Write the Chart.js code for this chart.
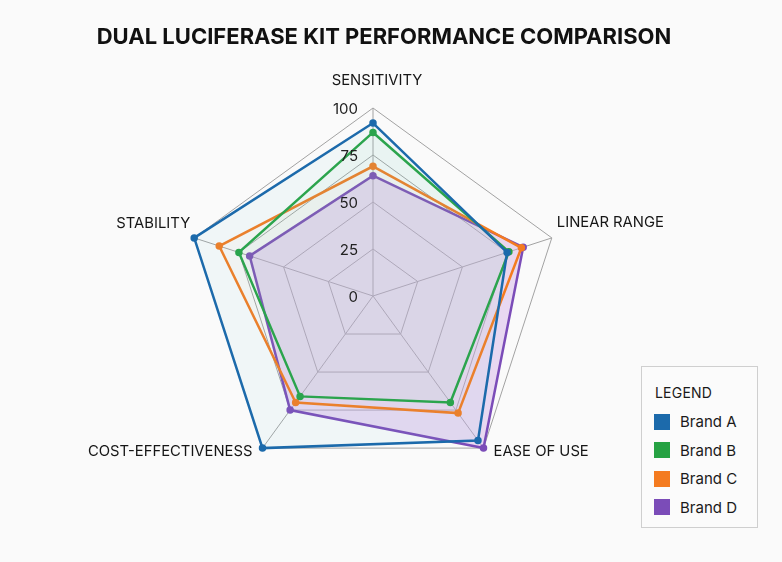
<!DOCTYPE html>
<html>
<head>
<meta charset="utf-8">
<script src="https://cdn.jsdelivr.net/npm/chart.js@4.4.0/dist/chart.umd.min.js"></script>
<style>
  html, body { margin:0; padding:0; background:#fafafa; }
  #wrap { position:relative; width:782px; height:562px; }
  #c { position:absolute; left:0; top:0; }
  #legend { position:absolute; left:641px; top:366px; width:115px; height:160px;
    border:1px solid #cfcfcf; background:#fbfbfb; font-family:"Inter","Noto Sans",sans-serif; color:#1a1a1a; }
  #legend .hd { position:absolute; left:13px; top:17px; font-size:14px; letter-spacing:0.2px; }
  #legend .row { position:absolute; left:12px; font-size:15px; display:flex; align-items:center; }
  #legend .sw { width:16px; height:16px; margin-right:10px; }
</style>
</head>
<body>
<div id="wrap">
  <canvas id="c" width="782" height="562"></canvas>
  <div id="legend"><div class="hd">LEGEND</div></div>
</div>
<script>
const categories = ["SENSITIVITY", "LINEAR RANGE", "EASE OF USE", "COST-EFFECTIVENESS", "STABILITY"];
const brandA = [92, 75, 95, 100, 100];
const brandB = [87, 76, 70, 66, 75];
const brandC = [69, 83, 77, 70, 86];
const brandD = [64, 84, 100, 75, 69];
const tickValues = [0, 25, 50, 75, 100];
const seriesNames = ["Brand A", "Brand B", "Brand C", "Brand D"];
const lineColors = ["#1c6aab", "#26a243", "#f47b20", "#7b4cb8"];
const fillColors = ["rgba(110,205,210,0.07)", "rgba(120,205,150,0.06)", "rgba(245,170,110,0.03)", "rgba(205,165,228,0.40)"];
const titleText = "DUAL LUCIFERASE KIT PERFORMANCE COMPARISON";

const seriesData = [brandA, brandB, brandC, brandD];

// HTML legend
const lg = document.getElementById('legend');
seriesNames.forEach((n, i) => {
  const r = document.createElement('div');
  r.className = 'row';
  r.style.top = (45 + i * 28.5) + 'px';
  r.innerHTML = '<span class="sw" style="background:' + lineColors[i] + '"></span>' + n;
  lg.appendChild(r);
});

const labelPlugin = {
  id: 'customLabels',
  afterDraw(chart) {
    const s = chart.scales.r;
    const ctx = chart.ctx;
    ctx.save();
    // title
    ctx.fillStyle = '#111';
    ctx.font = 'bold 22px "Inter", "Noto Sans", sans-serif';
    ctx.textAlign = 'center';
    ctx.textBaseline = 'middle';
    ctx.fillText(titleText, 384, 37);
    // tick labels
    ctx.font = '15px "Inter", "Noto Sans", sans-serif';
    ctx.fillStyle = '#222';
    ctx.textAlign = 'right';
    tickValues.forEach(v => {
      const y = s.yCenter - s.getDistanceFromCenterForValue(v);
      ctx.fillText(String(v), s.xCenter - 15, y + 1);
    });
    // point labels
    ctx.font = '14.8px "Inter", "Noto Sans", sans-serif';
    ctx.fillStyle = '#161616';
    categories.forEach((lab, i) => {
      const p = s.getPointPosition(i, s.drawingArea);
      let x = p.x, y = p.y, al = 'center';
      if (i === 0) { y -= 27; x += 4; }
      else if (i === 1) { x += 5; y -= 15; al = 'left'; }
      else if (i === 2) { x += 10; y += 3; al = 'left'; }
      else if (i === 3) { x -= 10; y += 3; al = 'right'; }
      else { x -= 4; y -= 14; al = 'right'; }
      ctx.textAlign = al;
      ctx.fillText(lab, x, y);
    });
    ctx.restore();
  }
};

new Chart(document.getElementById('c'), {
  type: 'radar',
  data: {
    labels: categories,
    datasets: seriesNames.map((n, i) => ({
      label: n,
      data: seriesData[i],
      borderColor: lineColors[i],
      backgroundColor: fillColors[i],
      borderWidth: 2.5,
      fill: true,
      pointRadius: 2.5,
      pointBackgroundColor: lineColors[i],
      pointBorderColor: lineColors[i],
      tension: 0
    }))
  },
  options: {
    responsive: false,
    animation: false,
    devicePixelRatio: 1,
    plugins: { legend: { display: false }, title: { display: false }, tooltip: { enabled: false } },
    scales: {
      r: {
        min: 0, max: 100,
        ticks: { display: false, stepSize: 25 },
        pointLabels: { display: false },
        grid: { color: '#a2a2a2', lineWidth: 1 },
        angleLines: { color: '#a2a2a2', lineWidth: 1 },
        afterFit(s) { s.xCenter = 373; s.yCenter = 296; s.drawingArea = 188; }
      }
    }
  },
  plugins: [labelPlugin]
});
</script>
</body>
</html>
